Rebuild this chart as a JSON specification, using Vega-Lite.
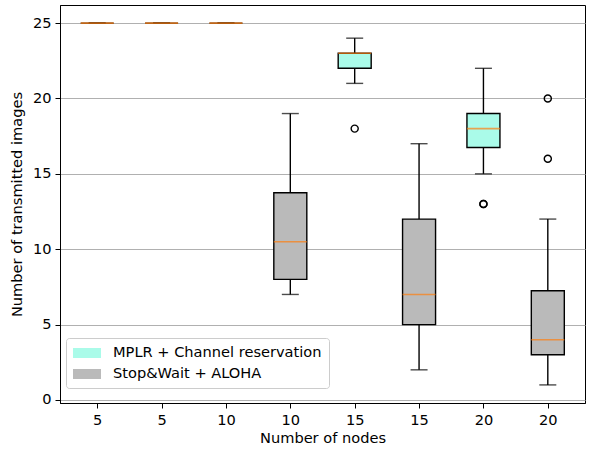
{
  "$schema": "https://vega.github.io/schema/vega-lite/v6.json",
  "width": 525,
  "height": 398,
  "autosize": "none",
  "padding": {"left": 60, "top": 5, "right": 4, "bottom": 47},
  "config": {
    "font": "DejaVu Sans",
    "view": {"stroke": "black", "strokeWidth": 1},
    "axis": {
      "labelFont": "DejaVu Sans", "titleFont": "DejaVu Sans",
      "labelFontSize": 14.6, "titleFontSize": 14.6, "titleFontWeight": "normal",
      "labelColor": "black", "titleColor": "black",
      "domainColor": "black", "tickColor": "black", "tickSize": 5, "labelPadding": 4
    }
  },
  "datasets": {
    "boxes": [
      {"pos": 1, "group": "MPLR + Channel reservation", "lower": 25, "q1": 25, "median": 25, "q3": 25, "upper": 25},
      {"pos": 2, "group": "Stop&Wait + ALOHA", "lower": 25, "q1": 25, "median": 25, "q3": 25, "upper": 25},
      {"pos": 3, "group": "MPLR + Channel reservation", "lower": 25, "q1": 25, "median": 25, "q3": 25, "upper": 25},
      {"pos": 4, "group": "Stop&Wait + ALOHA", "lower": 7, "q1": 8, "median": 10.5, "q3": 13.75, "upper": 19},
      {"pos": 5, "group": "MPLR + Channel reservation", "lower": 21, "q1": 22, "median": 23, "q3": 23, "upper": 24},
      {"pos": 6, "group": "Stop&Wait + ALOHA", "lower": 2, "q1": 5, "median": 7, "q3": 12, "upper": 17},
      {"pos": 7, "group": "MPLR + Channel reservation", "lower": 15, "q1": 16.75, "median": 18, "q3": 19, "upper": 22},
      {"pos": 8, "group": "Stop&Wait + ALOHA", "lower": 1, "q1": 3, "median": 4, "q3": 7.25, "upper": 12}
    ],
    "outliers": [
      {"pos": 5, "value": 18},
      {"pos": 7, "value": 13},
      {"pos": 7, "value": 13},
      {"pos": 8, "value": 16},
      {"pos": 8, "value": 20}
    ]
  },
  "encoding": {
    "x": {
      "field": "pos", "type": "quantitative",
      "scale": {"domain": [0.5, 8.5], "nice": false, "zero": false},
      "axis": {
        "values": [1, 2, 3, 4, 5, 6, 7, 8],
        "labelExpr": "['5','5','10','10','15','15','20','20'][datum.value - 1]",
        "grid": false, "title": "Number of nodes", "titlePadding": 4, "labelFlush": false
      }
    }
  },
  "layer": [
    {
      "data": {"name": "boxes"},
      "mark": {"type": "rule", "color": "black", "strokeWidth": 1.4},
      "encoding": {
        "y": {
          "field": "lower", "type": "quantitative",
          "scale": {"domain": [-0.2, 26.2], "nice": false, "zero": false},
          "axis": {"values": [0, 5, 10, 15, 20, 25], "grid": true, "gridColor": "#b0b0b0", "gridWidth": 1, "title": "Number of transmitted images", "titlePadding": 8}
        },
        "y2": {"field": "upper"}
      }
    },
    {
      "data": {"name": "boxes"},
      "mark": {"type": "tick", "orient": "horizontal", "color": "black", "size": 17, "thickness": 1.4},
      "encoding": {"y": {"field": "lower", "type": "quantitative"}}
    },
    {
      "data": {"name": "boxes"},
      "mark": {"type": "tick", "orient": "horizontal", "color": "black", "size": 17, "thickness": 1.4},
      "encoding": {"y": {"field": "upper", "type": "quantitative"}}
    },
    {
      "data": {"name": "boxes"},
      "mark": {"type": "bar", "size": 33, "stroke": "black", "strokeWidth": 1.4},
      "encoding": {
        "y": {"field": "q1", "type": "quantitative"},
        "y2": {"field": "q3"},
        "fill": {
          "field": "group", "type": "nominal",
          "scale": {"domain": ["MPLR + Channel reservation", "Stop&Wait + ALOHA"], "range": ["#aafbe9", "#bababa"]},
          "legend": {
            "title": null, "orient": "none", "legendX": 6, "legendY": 333,
            "symbolType": "M-1.75,-0.625H1.75V0.625H-1.75Z", "symbolSize": 256, "symbolOffset": 6,
            "symbolStrokeWidth": 0, "symbolOpacity": 1,
            "labelFont": "DejaVu Sans", "labelFontSize": 14.6, "labelColor": "black", "labelOffset": 18, "labelLimit": 400,
            "rowPadding": 6, "padding": 7,
            "strokeColor": "#cccccc", "fillColor": "white", "cornerRadius": 3
          }
        }
      }
    },
    {
      "data": {"name": "boxes"},
      "mark": {"type": "tick", "orient": "horizontal", "color": "#ff7f0e", "size": 33, "thickness": 1.6},
      "encoding": {"y": {"field": "median", "type": "quantitative"}}
    },
    {
      "data": {"name": "outliers"},
      "mark": {"type": "point", "shape": "circle", "filled": false, "stroke": "black", "strokeWidth": 1.4, "size": 50, "opacity": 1},
      "encoding": {"y": {"field": "value", "type": "quantitative"}}
    }
  ]
}
